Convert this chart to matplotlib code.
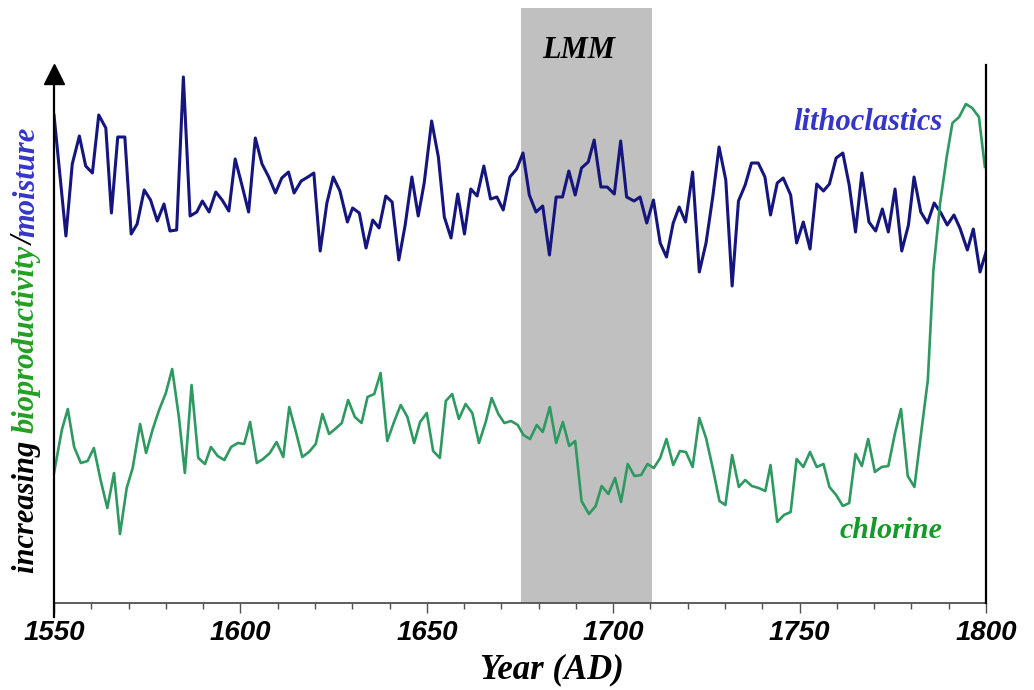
import matplotlib.pyplot as plt
from matplotlib import font_manager

# lithoclastics record (moisture proxy), relative units
litho_year = [1550.0, 1553.2, 1554.9, 1556.8, 1558.5, 1560.3, 1562.0, 1563.9, 1565.4, 1567.1,
              1569.0, 1570.7, 1572.3, 1574.2, 1575.9, 1577.7, 1579.5, 1581.1, 1582.9, 1584.7,
              1586.5, 1588.3, 1589.8, 1591.6, 1593.4, 1595.1, 1596.9, 1598.6, 1600.4, 1602.2,
              1604.0, 1605.8, 1607.6, 1609.4, 1611.1, 1612.9, 1614.4, 1616.3, 1618.1, 1619.7,
              1621.4, 1623.2, 1624.9, 1626.7, 1628.7, 1630.1, 1631.9, 1633.7, 1635.5, 1637.2,
              1639.0, 1640.7, 1642.5, 1644.2, 1646.0, 1647.7, 1649.3, 1651.3, 1653.1, 1654.7,
              1656.5, 1658.3, 1660.1, 1661.8, 1663.5, 1665.3, 1667.1, 1668.8, 1670.5, 1672.3,
              1674.1, 1675.8, 1677.5, 1679.3, 1681.1, 1682.9, 1684.7, 1686.4, 1688.1, 1689.8,
              1691.5, 1693.3, 1694.9, 1696.7, 1698.4, 1700.3, 1702.0, 1703.6, 1705.6, 1707.2,
              1709.0, 1710.8, 1712.6, 1714.3, 1716.1, 1717.7, 1719.4, 1721.3, 1723.1, 1724.9,
              1726.7, 1728.4, 1730.2, 1731.9, 1733.6, 1735.4, 1737.1, 1738.9, 1740.7, 1742.2,
              1744.0, 1745.6, 1747.6, 1749.2, 1751.0, 1752.8, 1754.6, 1756.4, 1758.0, 1759.8,
              1761.6, 1763.3, 1765.0, 1766.7, 1768.6, 1770.4, 1772.2, 1773.8, 1775.6, 1777.4,
              1779.2, 1780.7, 1782.5, 1784.3, 1786.1, 1787.9, 1789.6, 1791.4, 1793.0, 1795.0,
              1796.6, 1798.4, 1800.0]
litho = [488, 367, 439, 467, 437, 430, 488, 475, 390, 466,
         466, 369, 379, 413, 403, 382, 399, 372, 373, 526,
         387, 391, 402, 391, 411, 403, 392, 444, 418, 391,
         465, 439, 426, 410, 425, 431, 410, 422, 426, 430,
         352, 400, 426, 412, 381, 395, 390, 355, 383, 375,
         407, 401, 343, 378, 426, 387, 420, 482, 446, 386,
         365, 409, 369, 414, 407, 437, 404, 406, 393, 426,
         434, 450, 408, 391, 397, 348, 406, 406, 432, 408,
         435, 441, 463, 416, 416, 409, 462, 406, 402, 406,
         380, 403, 360, 346, 380, 396, 381, 431, 331, 360,
         406, 456, 423, 317, 402, 418, 440, 440, 426, 388,
         420, 425, 408, 360, 381, 354, 419, 412, 419, 445,
         450, 418, 371, 430, 381, 372, 394, 371, 414, 352,
         378, 426, 391, 380, 400, 390, 378, 388, 375, 353,
         374, 331, 351]

# chlorine record (bioproductivity proxy), relative units
chlor_year = [1550.0, 1552.1, 1553.7, 1555.4, 1557.2, 1559.0, 1560.7, 1562.5, 1564.3, 1566.1,
              1567.7, 1569.5, 1571.1, 1573.1, 1574.7, 1576.5, 1578.2, 1580.0, 1581.7, 1583.5,
              1585.1, 1586.9, 1588.7, 1590.5, 1592.1, 1593.9, 1595.7, 1597.5, 1599.3, 1601.0,
              1602.6, 1604.4, 1606.1, 1607.9, 1609.7, 1611.5, 1613.1, 1614.9, 1616.6, 1618.4,
              1620.2, 1622.0, 1623.8, 1625.4, 1627.2, 1628.9, 1630.7, 1632.5, 1634.1, 1635.9,
              1637.6, 1639.4, 1641.2, 1643.0, 1644.8, 1646.6, 1648.2, 1650.0, 1651.7, 1653.5,
              1655.1, 1656.8, 1658.6, 1660.4, 1662.2, 1664.0, 1665.8, 1667.4, 1669.2, 1670.8,
              1672.6, 1674.4, 1675.9, 1677.7, 1679.5, 1681.1, 1683.0, 1684.7, 1686.5, 1688.2,
              1689.8, 1691.5, 1693.5, 1695.3, 1696.9, 1698.7, 1700.5, 1702.1, 1703.9, 1705.7,
              1707.5, 1709.2, 1710.9, 1712.6, 1714.3, 1716.1, 1717.9, 1719.5, 1721.3, 1723.1,
              1724.9, 1726.7, 1728.5, 1730.1, 1731.9, 1733.7, 1735.4, 1737.2, 1739.0, 1740.8,
              1742.2, 1744.0, 1745.8, 1747.6, 1749.2, 1751.0, 1752.8, 1754.6, 1756.4, 1758.0,
              1759.8, 1761.6, 1763.3, 1765.0, 1766.7, 1768.4, 1770.2, 1772.0, 1773.8, 1775.6,
              1777.2, 1779.0, 1780.8, 1782.6, 1784.4, 1785.9, 1787.7, 1789.5, 1791.0, 1792.8,
              1794.6, 1796.3, 1798.1, 1799.7]
chlor = [130, 173, 194, 156, 140, 142, 155, 123, 95, 130,
         69, 115, 135, 179, 150, 174, 193, 210, 234, 186,
         130, 218, 145, 139, 156, 147, 143, 156, 160, 159,
         181, 140, 144, 150, 161, 146, 196, 171, 146, 151,
         159, 189, 169, 174, 180, 203, 186, 180, 206, 209,
         230, 162, 181, 198, 186, 160, 181, 190, 152, 145,
         202, 209, 184, 199, 190, 160, 181, 205, 189, 180,
         182, 178, 168, 164, 178, 171, 196, 160, 181, 157,
         162, 102, 89, 97, 117, 109, 125, 101, 139, 127,
         128, 139, 135, 145, 164, 138, 152, 151, 136, 185,
         165, 135, 102, 98, 148, 116, 123, 117, 115, 112,
         138, 81, 88, 91, 144, 136, 151, 136, 139, 116,
         108, 97, 100, 149, 137, 164, 131, 136, 137, 170,
         194, 127, 116, 170, 223, 333, 400, 447, 480, 486,
         499, 495, 486, 436]

lmm_start, lmm_end = 1675.3, 1710.3
x_ticks = [1550, 1600, 1650, 1700, 1750, 1800]

# narrow sans for the year labels if it is around
try:
    font_manager.findfont(font_manager.FontProperties(family='Liberation Sans Narrow'),
                          fallback_to_default=False)
    tick_family, tick_size = 'Liberation Sans Narrow', 24
except ValueError:
    tick_family, tick_size = 'Liberation Sans', 20

fig = plt.figure(figsize=(10.34, 6.9), dpi=100)
ax = fig.add_axes([54 / 1034, 87 / 690, 932 / 1034, 595 / 690])
ax.set_xlim(1550, 1800)
ax.set_ylim(0, 595)

# Late Maunder Minimum band
ax.axvspan(lmm_start, lmm_end, color='#c0c0c0', lw=0, zorder=0)
ax.text(1690.6, 553, 'LMM', ha='center', va='center',
        fontsize=22, family='Liberation Serif', weight='bold', style='italic')

ax.plot(litho_year, litho, color='#15157e', lw=2.2, zorder=3)
ax.plot(chlor_year, chlor, color='#2e9960', lw=1.9, zorder=3)

ax.text(1748.2, 480, 'lithoclastics', color='#3535c8', fontsize=22,
        family='Liberation Serif', weight='bold', style='italic', va='center')
ax.text(1760.8, 73, 'chlorine', color='#15992a', fontsize=21.5,
        family='Liberation Serif', weight='bold', style='italic', va='center')

# axes frame: arrowed left axis, plain right line
for side in ['left', 'right', 'top']:
    ax.spines[side].set_visible(False)
ax.spines['bottom'].set_color('#505050')
ax.spines['bottom'].set_linewidth(1.3)
ax.plot([1550, 1550], [-14, 522], color='black', lw=1.6, clip_on=False, zorder=4)
ax.plot([1550], [529], marker='^', ms=14.5, color='black', clip_on=False, zorder=4)
ax.plot([1800, 1800], [0, 538], color='black', lw=1.6, clip_on=False, zorder=4)

ax.set_yticks([])
ax.set_xticks(x_ticks)
ax.set_xticks(range(1550, 1801, 10), minor=True)
ax.tick_params(axis='x', which='major', length=7, width=1, color='#505050', pad=5,
               labelsize=tick_size)
ax.tick_params(axis='x', which='minor', length=4, width=1, color='#505050')
for lab in ax.get_xticklabels():
    lab.set_family(tick_family)
    lab.set_weight('bold')
    lab.set_style('italic')

# axis title sits a little right of centre
ax.text(1683.6, -67, 'Year (AD)', ha='center', va='center', fontsize=25,
        family='Liberation Serif', weight='bold', style='italic', clip_on=False)

# multicoloured rotated y label, built piece by piece upward
pieces = [('increasing ', 'black'), ('bioproductivity', '#22a022'),
          ('/', 'black'), ('moisture', '#3535c8')]
renderer = fig.canvas.get_renderer()
y_pos = 117 / 690
for txt, col in pieces:
    t = fig.text(34 / 1034, y_pos, txt, color=col, rotation=90, rotation_mode='anchor',
                 ha='left', va='baseline', fontsize=22, family='Liberation Serif',
                 weight='bold', style='italic')
    bb = t.get_window_extent(renderer)
    y_pos += bb.height / fig.bbox.height

fig.savefig('out.png', dpi=100)
